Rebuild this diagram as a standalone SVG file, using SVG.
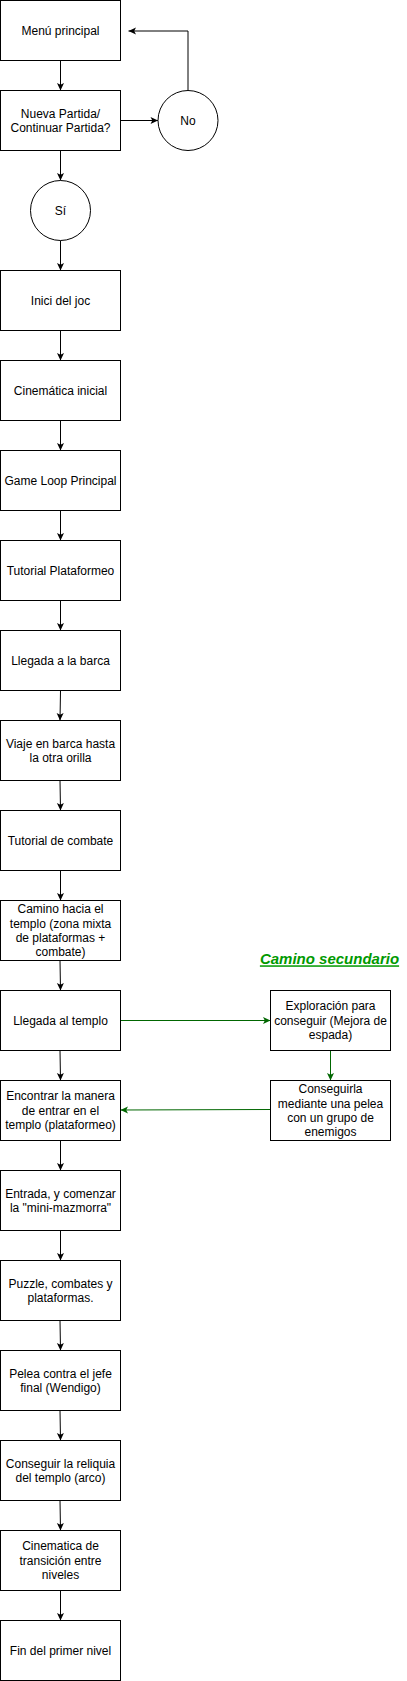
<svg xmlns="http://www.w3.org/2000/svg" width="407" height="1681" viewBox="0 0 407 1681">
<style>
.box{fill:#fff;stroke:#000;stroke-width:1}
.t{font-family:"Liberation Sans",Arial,sans-serif;font-size:12px;fill:#000;text-anchor:middle}
.c{fill:none;stroke:#000;stroke-width:1}
.g{fill:none;stroke:#006600;stroke-width:1}
.lbl{font-family:"Liberation Sans",Arial,sans-serif;font-size:15px;font-weight:bold;font-style:italic;text-decoration:underline;fill:#009900;text-anchor:middle}
</style>
<defs>
<marker id="ab" viewBox="0 0 9 8" refX="8" refY="4" markerWidth="9" markerHeight="8" orient="auto" markerUnits="userSpaceOnUse"><path d="M0.5,0.5 L8,4 L0.5,7.5 L2.3,4 z" fill="#000"/></marker>
<marker id="ag" viewBox="0 0 9 8" refX="8" refY="4" markerWidth="9" markerHeight="8" orient="auto" markerUnits="userSpaceOnUse"><path d="M0.5,0.5 L8,4 L0.5,7.5 L2.3,4 z" fill="#006600"/></marker>
</defs>
<rect width="407" height="1681" fill="#fff"/>
<g id="connectors">
<path class="c" marker-end="url(#ab)" d="M60.5,60.5 L60.5,90.5"/>
<path class="c" marker-end="url(#ab)" d="M120.5,120.5 L158,120.5"/>
<path class="c" marker-end="url(#ab)" d="M188,90.5 L188,31 L128.5,31"/>
<path class="c" marker-end="url(#ab)" d="M60.5,150.5 L60.5,180.5"/>
<path class="c" marker-end="url(#ab)" d="M60.5,240.5 L60.5,270.5"/>
<path class="c" marker-end="url(#ab)" d="M60.5,330.5 L60.5,360.5"/>
<path class="c" marker-end="url(#ab)" d="M60.5,420.5 L60.5,450.5"/>
<path class="c" marker-end="url(#ab)" d="M60.5,510.5 L60.5,540.5"/>
<path class="c" marker-end="url(#ab)" d="M60.5,600.5 L60.5,630.5"/>
<path class="c" marker-end="url(#ab)" d="M60.5,690.5 L60,720.5"/>
<path class="c" marker-end="url(#ab)" d="M60,780.5 L60.5,810.5"/>
<path class="c" marker-end="url(#ab)" d="M60.5,870.5 L60.5,900.5"/>
<path class="c" marker-end="url(#ab)" d="M60,960.5 L60.5,990.5"/>
<path class="c" marker-end="url(#ab)" d="M60,1050.5 L60.5,1080.5"/>
<path class="c" marker-end="url(#ab)" d="M60.5,1140.5 L60.5,1170.5"/>
<path class="c" marker-end="url(#ab)" d="M60.5,1230.5 L60.5,1260.5"/>
<path class="c" marker-end="url(#ab)" d="M60,1320.5 L60.5,1350.5"/>
<path class="c" marker-end="url(#ab)" d="M60,1410.5 L60.5,1440.5"/>
<path class="c" marker-end="url(#ab)" d="M60,1500.5 L60.5,1530.5"/>
<path class="c" marker-end="url(#ab)" d="M60.5,1590.5 L60.5,1620.5"/>
<path class="g" marker-end="url(#ag)" d="M120.5,1020.5 L270.5,1020.5"/>
<path class="g" marker-end="url(#ag)" d="M330.5,1050.5 L330.5,1080.5"/>
<path class="g" marker-end="url(#ag)" d="M270.5,1109.5 L120.5,1110"/>
</g>
<g id="menu"><rect class="box" x="0.5" y="0.5" width="120" height="60"/><text class="t" x="60.5" y="34.8">Menú principal</text></g>
<g id="nueva"><rect class="box" x="0.5" y="90.5" width="120" height="60"/><text class="t" x="60.5" y="117.6">Nueva Partida/</text><text class="t" x="60.5" y="132">Continuar Partida?</text></g>
<g id="no"><circle class="box" cx="188" cy="120.5" r="30"/><text class="t" x="188" y="124.8">No</text></g>
<g id="si"><circle class="box" cx="60.5" cy="210.5" r="30"/><text class="t" x="60.5" y="214.8">Sí</text></g>
<g id="inici"><rect class="box" x="0.5" y="270.5" width="120" height="60"/><text class="t" x="60.5" y="304.8">Inici del joc</text></g>
<g id="cinematica"><rect class="box" x="0.5" y="360.5" width="120" height="60"/><text class="t" x="60.5" y="394.8">Cinemática inicial</text></g>
<g id="gameloop"><rect class="box" x="0.5" y="450.5" width="120" height="60"/><text class="t" x="60.5" y="484.8">Game Loop Principal</text></g>
<g id="tutplat"><rect class="box" x="0.5" y="540.5" width="120" height="60"/><text class="t" x="60.5" y="574.8">Tutorial Plataformeo</text></g>
<g id="barca"><rect class="box" x="0.5" y="630.5" width="120" height="60"/><text class="t" x="60.5" y="664.8">Llegada a la barca</text></g>
<g id="viaje"><rect class="box" x="0.5" y="720.5" width="120" height="60"/><text class="t" x="60.5" y="747.6">Viaje en barca hasta</text><text class="t" x="60.5" y="762">la otra orilla</text></g>
<g id="tutcomb"><rect class="box" x="0.5" y="810.5" width="120" height="60"/><text class="t" x="60.5" y="844.8">Tutorial de combate</text></g>
<g id="camino"><rect class="box" x="0.5" y="900.5" width="120" height="60"/><text class="t" x="60.5" y="913.2">Camino hacia el</text><text class="t" x="60.5" y="927.6">templo (zona mixta</text><text class="t" x="60.5" y="942">de plataformas +</text><text class="t" x="60.5" y="956.4">combate)</text></g>
<g id="llegtemplo"><rect class="box" x="0.5" y="990.5" width="120" height="60"/><text class="t" x="60.5" y="1024.8">Llegada al templo</text></g>
<g id="encontrar"><rect class="box" x="0.5" y="1080.5" width="120" height="60"/><text class="t" x="60.5" y="1100.4">Encontrar la manera</text><text class="t" x="60.5" y="1114.8">de entrar en el</text><text class="t" x="60.5" y="1129.2">templo (plataformeo)</text></g>
<g id="entrada"><rect class="box" x="0.5" y="1170.5" width="120" height="60"/><text class="t" x="60.5" y="1197.6">Entrada, y comenzar</text><text class="t" x="60.5" y="1212">la "mini-mazmorra"</text></g>
<g id="puzzle"><rect class="box" x="0.5" y="1260.5" width="120" height="60"/><text class="t" x="60.5" y="1287.6">Puzzle, combates y</text><text class="t" x="60.5" y="1302">plataformas.</text></g>
<g id="pelea"><rect class="box" x="0.5" y="1350.5" width="120" height="60"/><text class="t" x="60.5" y="1377.6">Pelea contra el jefe</text><text class="t" x="60.5" y="1392">final (Wendigo)</text></g>
<g id="reliquia"><rect class="box" x="0.5" y="1440.5" width="120" height="60"/><text class="t" x="60.5" y="1467.6">Conseguir la reliquia</text><text class="t" x="60.5" y="1482">del templo (arco)</text></g>
<g id="transicion"><rect class="box" x="0.5" y="1530.5" width="120" height="60"/><text class="t" x="60.5" y="1550.4">Cinematica de</text><text class="t" x="60.5" y="1564.8">transición entre</text><text class="t" x="60.5" y="1579.2">niveles</text></g>
<g id="fin"><rect class="box" x="0.5" y="1620.5" width="120" height="60"/><text class="t" x="60.5" y="1654.8">Fin del primer nivel</text></g>
<g id="exploracion"><rect class="box" x="270.5" y="990.5" width="120" height="60"/><text class="t" x="330.5" y="1010.4">Exploración para</text><text class="t" x="330.5" y="1024.8">conseguir (Mejora de</text><text class="t" x="330.5" y="1039.2">espada)</text></g>
<g id="conseguirla"><rect class="box" x="270.5" y="1080.5" width="120" height="60"/><text class="t" x="330.5" y="1093.2">Conseguirla</text><text class="t" x="330.5" y="1107.6">mediante una pelea</text><text class="t" x="330.5" y="1122">con un grupo de</text><text class="t" x="330.5" y="1136.4">enemigos</text></g>
<g id="camino-secundario"><text class="lbl" x="329.5" y="964.3">Camino secundario</text></g>
</svg>
